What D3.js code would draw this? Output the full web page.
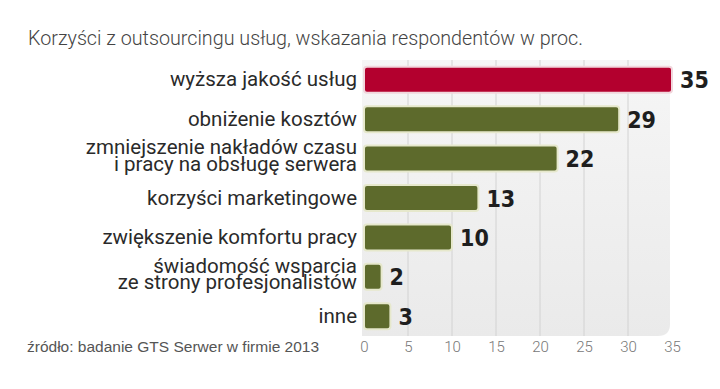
<!DOCTYPE html>
<html>
<head>
<meta charset="utf-8">
<script src="https://cdn.jsdelivr.net/npm/d3@7"></script>
<style>
  body { margin: 0; background: #fff; }
  svg { display: block; }
</style>
</head>
<body>
<div id="chart"></div>
<script>
// data
const categories = [
  ["wyższa jakość usług"],
  ["obniżenie kosztów"],
  ["zmniejszenie nakładów czasu", "i pracy na obsługę serwera"],
  ["korzyści marketingowe"],
  ["zwiększenie komfortu pracy"],
  ["świadomość wsparcia", "ze strony profesjonalistów"],
  ["inne"]
];
const values = [35, 29, 22, 13, 10, 2, 3];
const xTicks = [0, 5, 10, 15, 20, 25, 30, 35];
const title = "Korzyści z outsourcingu usług, wskazania respondentów w proc.";
const source = "źródło: badanie GTS Serwer w firmie 2013";

const w = 720, h = 389;
const plotL = 364, plotR = 672, plotT = 60, plotB = 336;

const svg = d3.select("#chart").append("svg")
  .attr("width", w).attr("height", h);

const defs = svg.append("defs");
const grad = defs.append("linearGradient").attr("id", "bg")
  .attr("x1", 0).attr("y1", 0).attr("x2", 0).attr("y2", 1);
grad.append("stop").attr("offset", "0%").attr("stop-color", "#f6f6f6");
grad.append("stop").attr("offset", "100%").attr("stop-color", "#eaeaea");

const x = d3.scaleLinear().domain([0, 35]).range([plotL, plotR]);
const y = d3.scaleBand().domain(d3.range(values.length))
  .range([plotT, plotB]).paddingInner(0.34).paddingOuter(0.17);

// title
svg.append("text")
  .attr("x", 28).attr("y", 44.5)
  .attr("textLength", 555)
  .attr("lengthAdjust", "spacingAndGlyphs")
  .style("font-family", "Roboto, sans-serif")
  .style("font-weight", 300)
  .style("font-size", "19.5px")
  .style("fill", "#444")
  .text(title);

// plot background, rounded bottom-right corner
const r = 12, bx0 = plotL - 2, bx1 = plotR - 2;
svg.append("path")
  .attr("d", `M${bx0},${plotT} H${bx1} V${plotB - r} Q${bx1},${plotB} ${bx1 - r},${plotB} H${bx0} Z`)
  .attr("fill", "url(#bg)");

// grid
svg.append("g").selectAll("line")
  .data(xTicks.slice(1, -1))
  .enter().append("line")
  .attr("x1", d => x(d)).attr("x2", d => x(d))
  .attr("y1", plotT).attr("y2", plotB)
  .attr("stroke", "#d2d2d2").attr("stroke-width", 1);

// x axis
const xAxis = d3.axisBottom(x).tickValues(xTicks).tickSize(0).tickPadding(5);
svg.append("g")
  .attr("transform", `translate(0,${plotB})`)
  .call(xAxis)
  .call(g => g.select(".domain").remove())
  .selectAll("text")
  .style("font-family", "Roboto, sans-serif")
  .style("font-weight", 300)
  .style("font-size", "15px")
  .style("fill", "#777");

// bars
svg.append("g").selectAll("rect")
  .data(values)
  .enter().append("rect")
  .attr("x", x(0))
  .attr("y", (d, i) => y(i))
  .attr("width", d => x(d) - x(0))
  .attr("height", y.bandwidth())
  .attr("rx", 3)
  .attr("fill", (d, i) => i === 0 ? "#b3002e" : "#5d6a2c")
  .attr("stroke", (d, i) => i === 0 ? "#f1d6dc" : "#e6e8cc")
  .attr("stroke-width", 2);

// value labels
svg.append("g").selectAll("text")
  .data(values)
  .enter().append("text")
  .attr("x", d => x(d) + 8)
  .attr("y", (d, i) => y(i) + y.bandwidth() / 2 + 8.5)
  .style("font-family", "'DejaVu Sans Condensed', 'DejaVu Sans', sans-serif")
  .style("font-weight", "bold")
  .style("font-size", "23px")
  .style("fill", "#1e1e1e")
  .text(d => d);

// category labels
const lab = svg.append("g").selectAll("text")
  .data(categories)
  .enter().append("text")
  .attr("text-anchor", "end")
  .attr("transform", (d, i) => `translate(357,${y(i) + y.bandwidth() / 2})`)
  .style("font-family", "Roboto, sans-serif")
  .style("font-size", "20.5px")
  .style("fill", "#2a2a2a");
lab.each(function (d) {
  const t = d3.select(this);
  const lh = 16.5;
  const base = 6.5 - (d.length - 1) * 2.5;
  d.forEach((line, j) => {
    t.append("tspan")
      .attr("x", 0)
      .attr("y", base + (j - (d.length - 1) / 2) * lh)
      .text(line);
  });
});

// source
svg.append("text")
  .attr("x", 27).attr("y", 352)
  .style("font-family", "'Liberation Sans', Arial, sans-serif")
  .style("font-size", "15.5px")
  .style("fill", "#555")
  .text(source);
</script>
</body>
</html>
